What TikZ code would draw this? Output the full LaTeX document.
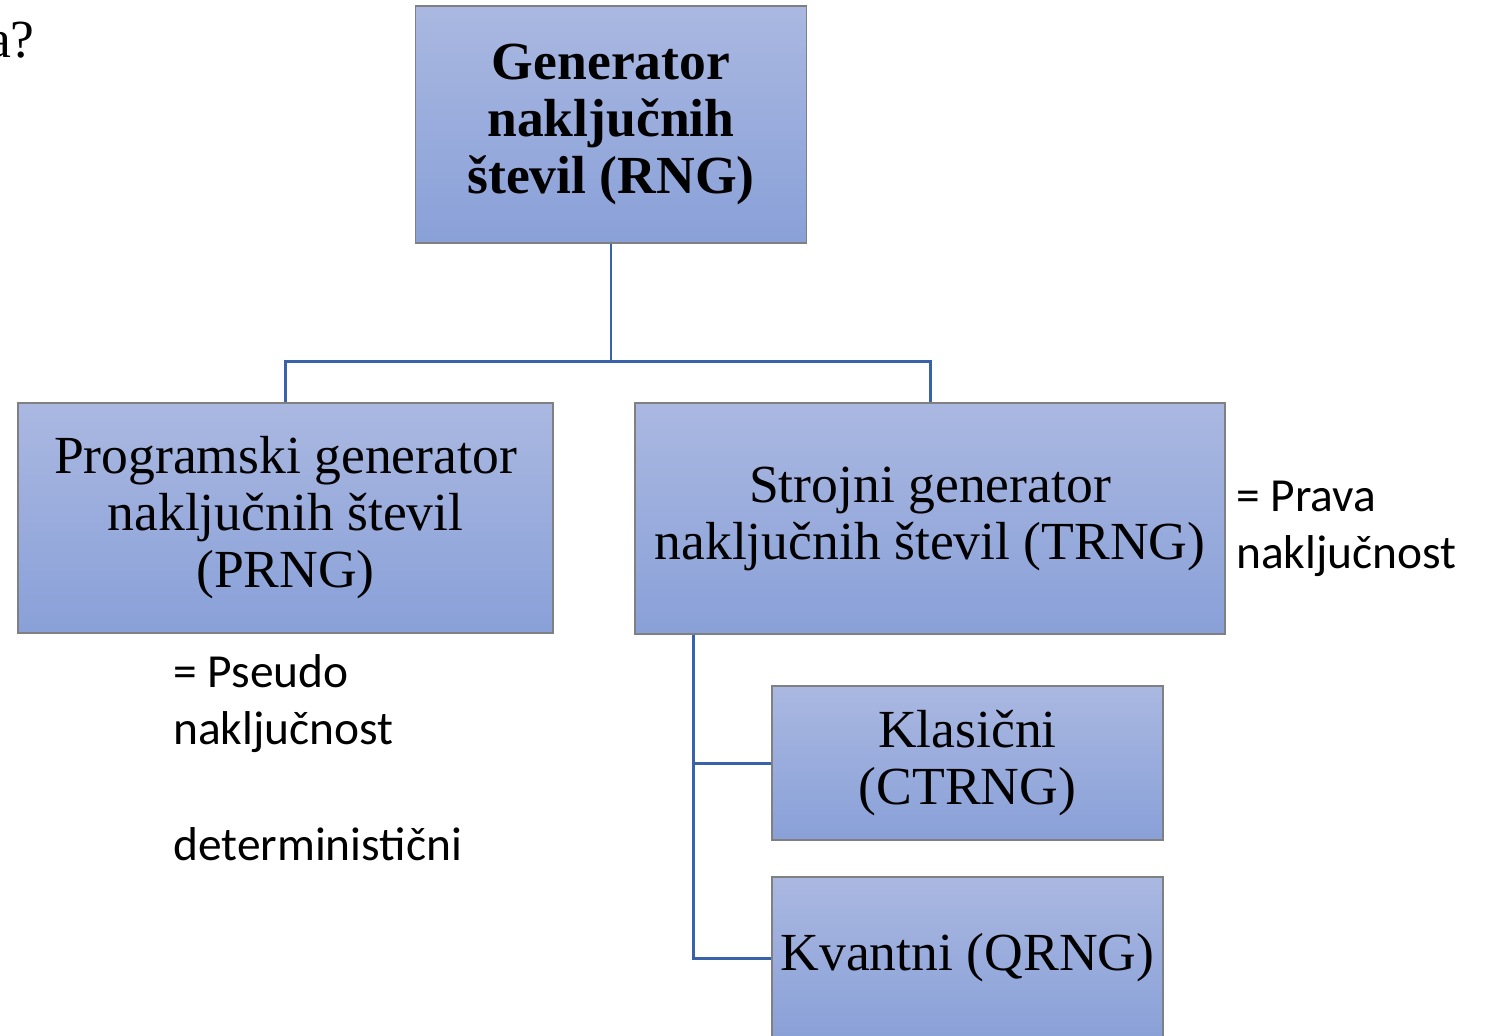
\documentclass[tikz,border=0pt]{standalone}
\usepackage{fontspec}
\setmainfont{Liberation Serif}
\newfontfamily\notefont{Carlito}
\usepackage{tikz}
\usetikzlibrary{positioning, calc}
\definecolor{boxtop}{RGB}{170,184,225}
\definecolor{boxbottom}{RGB}{137,160,216}
\definecolor{boxline}{RGB}{128,128,128}
\definecolor{linkblue}{RGB}{58,98,168}
\tikzset{
  rngbox/.style={
    rectangle,draw=boxline,line width=0.6pt,top color=boxtop,bottom color=boxbottom,
    align=center,inner sep=2pt,font=\fontsize{30.5}{32.4}\selectfont
  },
  link/.style={draw=linkblue,line width=1.7pt},
  note/.style={align=left,anchor=north west,inner sep=0pt,
    font=\notefont\fontsize{27}{32.4}\selectfont}
}

\begin{document}
\begin{tikzpicture}
  \useasboundingbox (0,0) rectangle (29.72,-20.72);

  % cut title
  \node[anchor=east,inner sep=0pt,font=\fontsize{30.5}{32.4}\selectfont] at (0.7,-0.8) (qmark){a?};

  % RNG
  \node[rngbox,minimum width=7.82cm,minimum height=4.74cm,font=\bfseries\fontsize{30.5}{32.4}\selectfont]
    at (12.22,-2.49) (rng){Generator\\naključnih\\števil (RNG)};

  % PRNG / TRNG
  \node[rngbox,minimum width=10.7cm,minimum height=4.6cm] at (5.71,-10.36) (prng)
    {Programski generator\\naključnih števil\\(PRNG)};
  \node[rngbox,minimum width=11.8cm,minimum height=4.62cm] at (18.6,-10.37) (trng)
    {Strojni generator\\naključnih števil (TRNG)};

  % CTRNG / QRNG
  \node[rngbox,minimum width=7.82cm,minimum height=3.08cm] at (19.35,-15.26) (ctrng)
    {Klasični\\(CTRNG)};
  \node[rngbox,minimum width=7.82cm,minimum height=3.24cm] at (19.35,-19.16) (qrng)
    {Kvantni (QRNG)};

  % notes
  \node[note] at (24.72,-9.62) (truenote){= Prava\\naključnost};
  \node[note] at (3.46,-13.09) (pseudonote){= Pseudo\\naključnost};
  \node[note] at (3.46,-16.54) (detnote){deterministični};

  % links
  \coordinate (split) at (12.22,-7.22);
  \draw[link] (rng.south) -- (split);
  \draw[link] (split) -| (prng.north);
  \draw[link] (split) -| (trng.north);
  \coordinate (trunk) at ($(trng.south west)+(1.18,0)$);
  \draw[link] (trunk) |- (ctrng.west);
  \draw[link] (trunk) |- (qrng.west);
\end{tikzpicture}
\end{document}
